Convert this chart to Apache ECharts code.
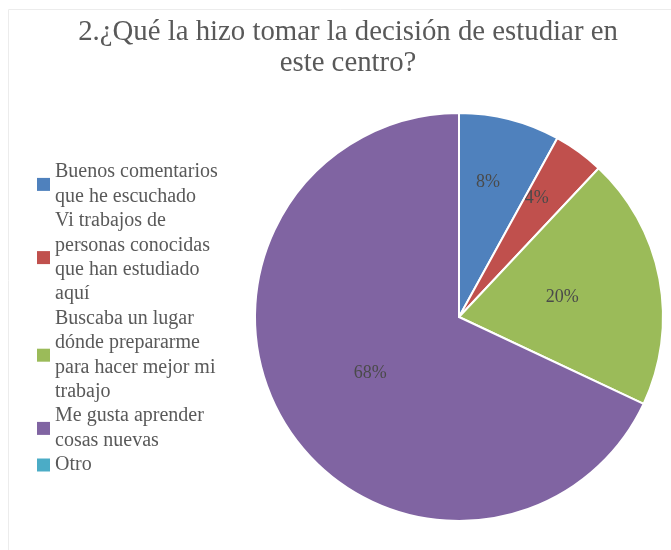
<!DOCTYPE html>
<html>
<head>
<meta charset="utf-8">
<script src="https://cdn.jsdelivr.net/npm/echarts@6/dist/echarts.min.js"></script>
<style>
  html, body { margin: 0; padding: 0; background: #fff; }
  #chart { width: 671px; height: 550px; }
</style>
</head>
<body>
<div id="chart"></div>
<script>
const categories = [
  'Buenos comentarios\nque he escuchado',
  'Vi trabajos de\npersonas conocidas\nque han estudiado\naquí',
  'Buscaba un lugar\ndónde prepararme\npara hacer mejor mi\ntrabajo',
  'Me gusta aprender\ncosas nuevas',
  'Otro'
]
const values = [8, 4, 20, 68, 0]
const colors = ['#4f81bd', '#c0504d', '#9bbb59', '#8064a2', '#4bacc6']
// label nudges, like Excel's best-fit placement
const labelOffsets = [[3, -33], [16, -34], [0, 0], [0, 0], [0, 0]]

const myChart = echarts.init(document.getElementById('chart'))
myChart.setOption({
  animation: false,
  color: colors,
  graphic: [
    {
      type: 'rect',
      shape: { x: 8.5, y: 9.5, width: 700, height: 600 },
      style: { fill: 'none', stroke: '#ececec', lineWidth: 1 }
    }
  ],
  title: {
    text: '2.¿Qué la hizo tomar la decisión de estudiar en\neste centro?',
    left: 343,
    textAlign: 'center',
    top: 12,
    textStyle: {
      fontFamily: 'Liberation Serif',
      fontSize: 28.8,
      fontWeight: 'normal',
      color: '#595959',
      lineHeight: 31
    }
  },
  legend: {
    orient: 'vertical',
    left: 32,
    top: 155,
    itemWidth: 13,
    itemHeight: 13,
    itemGap: 0,
    icon: 'rect',
    itemStyle: { borderWidth: 0 },
    textStyle: {
      fontFamily: 'Liberation Serif',
      fontSize: 20,
      color: '#595959',
      lineHeight: 24.4
    },
    data: categories
  },
  series: [
    {
      type: 'pie',
      center: [459, 317],
      radius: 204,
      startAngle: 90,
      clockwise: true,
      avoidLabelOverlap: false,
      itemStyle: { borderColor: '#fff', borderWidth: 2 },
      label: {
        show: true,
        position: 'inside',
        formatter: '{d}%',
        fontFamily: 'Liberation Serif',
        fontSize: 18,
        color: '#4a4a4a'
      },
      data: categories.map((name, i) => ({
        name: name,
        value: values[i],
        label: { offset: labelOffsets[i], show: values[i] > 0 }
      }))
    }
  ]
})
</script>
</body>
</html>
